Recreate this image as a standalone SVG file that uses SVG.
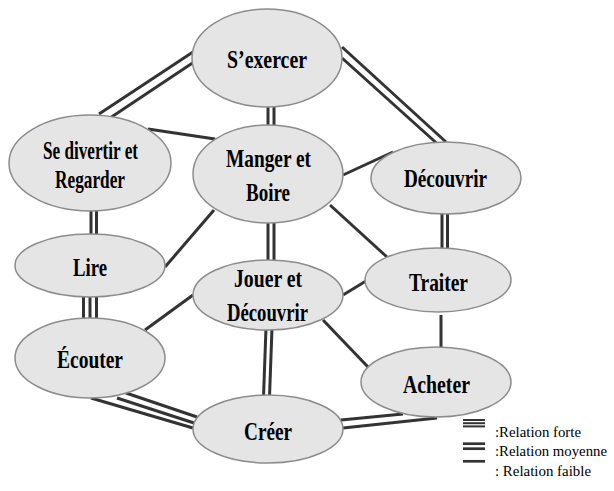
<svg xmlns="http://www.w3.org/2000/svg" width="614" height="491" viewBox="0 0 614 491">
<style>
.bg{fill:#ffffff}
.n ellipse{fill:#e5e5e5;stroke:#8c8c8c;stroke-width:1.5}
.n text{font-family:'Liberation Serif','Times New Roman',serif;font-weight:bold;font-size:26px;fill:#000;text-anchor:middle}
.c line{stroke:#333333;stroke-width:3;stroke-linecap:butt}
.lg line{stroke:#333333;stroke-linecap:butt}
.lg text{font-family:'Liberation Serif','Times New Roman',serif;font-size:15px;fill:#000}
</style>
<rect class="bg" x="0" y="0" width="614" height="491"/>
<g id="connectors" class="c">
  <line x1="193" y1="52" x2="99" y2="114"/>
  <line x1="194" y1="62" x2="110" y2="118"/>
  <line x1="268" y1="96" x2="268" y2="127"/>
  <line x1="274" y1="96" x2="274" y2="127"/>
  <line x1="342" y1="47" x2="446" y2="142"/>
  <line x1="342" y1="58" x2="442" y2="148"/>
  <line x1="148" y1="129" x2="215" y2="139"/>
  <line x1="343" y1="175" x2="393" y2="152"/>
  <line x1="91" y1="210" x2="91" y2="236"/>
  <line x1="96.5" y1="210" x2="96.5" y2="236"/>
  <line x1="214" y1="210" x2="165" y2="267"/>
  <line x1="268" y1="222" x2="268" y2="262"/>
  <line x1="274" y1="222" x2="274" y2="262"/>
  <line x1="330" y1="205" x2="387" y2="257"/>
  <line x1="442" y1="212" x2="442" y2="250"/>
  <line x1="447.5" y1="212" x2="447.5" y2="250"/>
  <line x1="83.5" y1="295" x2="83.5" y2="320"/>
  <line x1="90" y1="295" x2="90" y2="320"/>
  <line x1="96.5" y1="295" x2="96.5" y2="320"/>
  <line x1="193" y1="295" x2="145" y2="330"/>
  <line x1="343" y1="295" x2="366" y2="281"/>
  <line x1="323" y1="320" x2="368" y2="367"/>
  <line x1="266" y1="328" x2="263.5" y2="397"/>
  <line x1="272" y1="328" x2="269.5" y2="397"/>
  <line x1="441" y1="315" x2="441" y2="348"/>
  <line x1="91" y1="398" x2="193" y2="428"/>
  <line x1="117" y1="398" x2="194" y2="423"/>
  <line x1="126" y1="393" x2="197" y2="417"/>
  <line x1="341" y1="420" x2="403" y2="414"/>
  <line x1="343" y1="428" x2="437" y2="418"/>
</g>
<g id="n-sexercer" class="n">
  <ellipse cx="267" cy="58" rx="75" ry="49"/>
  <text x="267" y="68" textLength="80" lengthAdjust="spacingAndGlyphs">S’exercer</text>
</g>
<g id="n-sedivertir" class="n">
  <ellipse cx="90" cy="163" rx="81" ry="48"/>
  <text x="90.5" y="159" textLength="95" lengthAdjust="spacingAndGlyphs">Se divertir et</text>
  <text x="90" y="188" textLength="70" lengthAdjust="spacingAndGlyphs">Regarder</text>
</g>
<g id="n-manger" class="n">
  <ellipse cx="268" cy="174" rx="75" ry="49"/>
  <text x="268.5" y="167" textLength="85" lengthAdjust="spacingAndGlyphs">Manger et</text>
  <text x="268" y="201" textLength="44" lengthAdjust="spacingAndGlyphs">Boire</text>
</g>
<g id="n-decouvrir" class="n">
  <ellipse cx="446" cy="178" rx="75" ry="36"/>
  <text x="445.5" y="187" textLength="83" lengthAdjust="spacingAndGlyphs">Découvrir</text>
</g>
<g id="n-lire" class="n">
  <ellipse cx="90" cy="265.5" rx="75" ry="31.5"/>
  <text x="90" y="276" textLength="34" lengthAdjust="spacingAndGlyphs">Lire</text>
</g>
<g id="n-ecouter" class="n">
  <ellipse cx="90" cy="358" rx="75" ry="40"/>
  <text x="90" y="368" textLength="66" lengthAdjust="spacingAndGlyphs">Écouter</text>
</g>
<g id="n-jouer" class="n">
  <ellipse cx="268" cy="295" rx="75" ry="35"/>
  <text x="268" y="287" textLength="68" lengthAdjust="spacingAndGlyphs">Jouer et</text>
  <text x="267.5" y="321" textLength="81" lengthAdjust="spacingAndGlyphs">Découvrir</text>
</g>
<g id="n-traiter" class="n">
  <ellipse cx="438" cy="280" rx="73" ry="32"/>
  <text x="438.5" y="291" textLength="59" lengthAdjust="spacingAndGlyphs">Traiter</text>
</g>
<g id="n-acheter" class="n">
  <ellipse cx="436" cy="382" rx="75" ry="35"/>
  <text x="436.5" y="392.5" textLength="67" lengthAdjust="spacingAndGlyphs">Acheter</text>
</g>
<g id="n-creer" class="n">
  <ellipse cx="268" cy="429" rx="75" ry="34"/>
  <text x="268" y="440" textLength="48" lengthAdjust="spacingAndGlyphs">Créer</text>
</g>
<g id="legend" class="lg">
  <line x1="463" y1="420" x2="485" y2="420" stroke-width="2"/>
  <line x1="463" y1="423.2" x2="485" y2="423.2" stroke-width="2"/>
  <line x1="463" y1="426.4" x2="485" y2="426.4" stroke-width="2"/>
  <line x1="463" y1="443.7" x2="485" y2="443.7" stroke-width="2.7"/>
  <line x1="463" y1="448.7" x2="485" y2="448.7" stroke-width="2.7"/>
  <line x1="463" y1="461.3" x2="485" y2="461.3" stroke-width="2.7"/>
  <text x="495" y="436.5" textLength="86" lengthAdjust="spacingAndGlyphs">:Relation forte</text>
  <text x="495" y="456" textLength="112" lengthAdjust="spacingAndGlyphs">:Relation moyenne</text>
  <text x="495" y="476" textLength="96" lengthAdjust="spacingAndGlyphs">: Relation faible</text>
</g>
</svg>
